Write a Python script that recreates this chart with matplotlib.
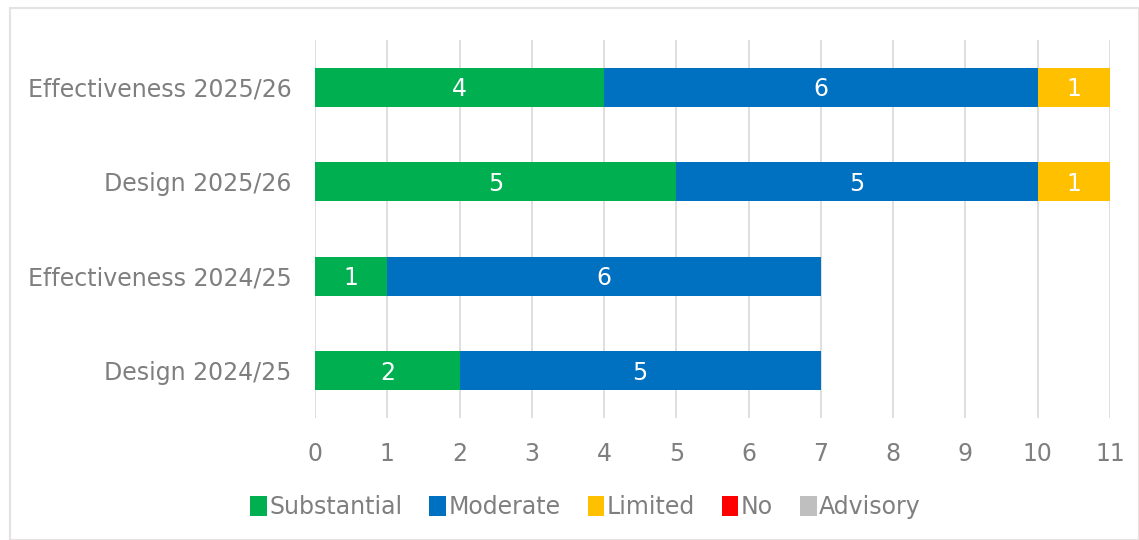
import numpy as np
import matplotlib
matplotlib.use("Agg")
import matplotlib.pyplot as plt
from matplotlib.patches import Rectangle

# Donnees
categories = ["Design 2024/25", "Effectiveness 2024/25", "Design 2025/26", "Effectiveness 2025/26"]
substantial = [2, 1, 5, 4]
moderate = [5, 6, 5, 6]
limited = [0, 0, 1, 1]
no_assur = [0, 0, 0, 0]
advisory = [0, 0, 0, 0]

series = [("Substantial", substantial, "#00B050"),
          ("Moderate", moderate, "#0070C0"),
          ("Limited", limited, "#FFC000"),
          ("No", no_assur, "#FF0000"),
          ("Advisory", advisory, "#BFBFBF")]

plt.rcParams['font.family'] = ['DejaVu Sans']
gris = "#7F7F7F"
taille = 17

fig = plt.figure(figsize=(11.39, 5.40), dpi=100)
ax = fig.add_axes([0.2766, 0.2259, 0.6979, 0.7001])

y = np.arange(len(categories))
left = np.zeros(len(categories))
for nom, vals, coul in series:
    vals = np.array(vals, dtype=float)
    bars = ax.barh(y, vals, left=left, height=0.41, color=coul, label=nom, zorder=3)
    for b, v in zip(bars, vals):
        if v > 0:
            ax.text(b.get_x() + b.get_width() / 2, b.get_y() + b.get_height() / 2 - 0.02,
                    "%d" % v, color="white", ha="center", va="center", fontsize=taille, zorder=4)
    left += vals

ax.set_xlim(0, 11)
ax.set_ylim(-0.5, 3.5)
ax.set_xticks(range(0, 12))
ax.set_yticks(y)
ax.set_yticklabels(categories)
ax.tick_params(axis="both", length=0, labelsize=taille, labelcolor=gris)
ax.tick_params(axis="x", pad=17)
ax.tick_params(axis="y", pad=17)
ax.grid(axis="x", color="#D9D9D9", linewidth=1.2, zorder=0)
for s in ax.spines.values():
    s.set_visible(False)

fig.legend(loc="center", bbox_to_anchor=(0.514, 0.061), ncol=5, frameon=False,
           fontsize=taille, labelcolor=gris, handlelength=0.7, handleheight=0.9,
           handletextpad=0.1, columnspacing=1.15)

# cadre du graphique
fig.patches.append(Rectangle((10 / 1139, 0), 1 - 10 / 1139, 1 - 8 / 540, transform=fig.transFigure,
                             fill=False, edgecolor="#E6E2E2", linewidth=1.5))

fig.savefig("out.png", dpi=100)
